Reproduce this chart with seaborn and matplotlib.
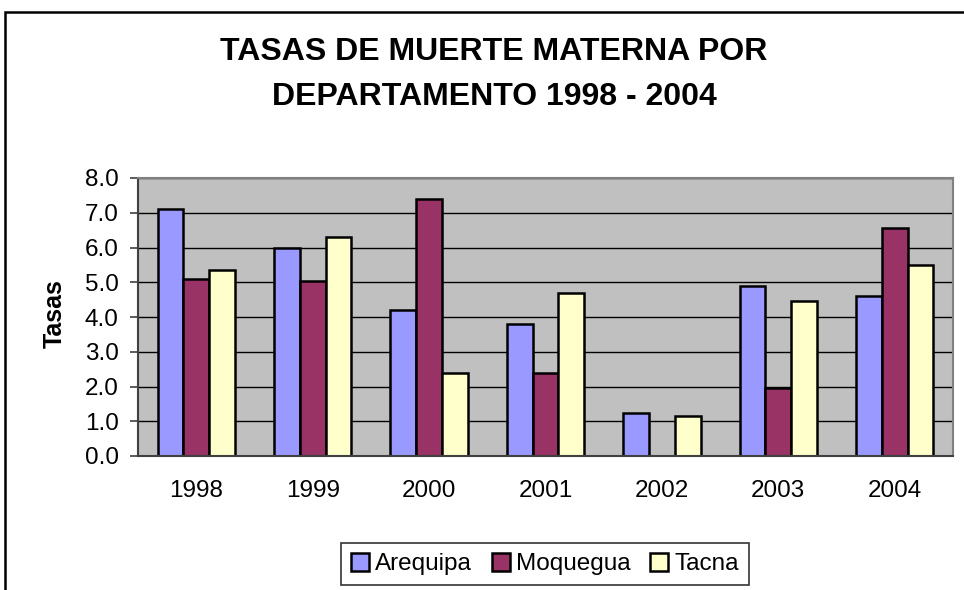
import numpy as np
import pandas as pd
import matplotlib
matplotlib.use("Agg")
import matplotlib.pyplot as plt
from matplotlib.patches import Rectangle
import seaborn as sns

years = ["1998", "1999", "2000", "2001", "2002", "2003", "2004"]
arequipa = [7.1, 6.0, 4.2, 3.8, 1.25, 4.9, 4.6]
moquegua = [5.1, 5.05, 7.4, 2.4, 0.0, 1.95, 6.55]
tacna = [5.35, 6.3, 2.4, 4.7, 1.15, 4.45, 5.5]
series_names = ["Arequipa", "Moquegua", "Tacna"]
colors = ["#9999FF", "#993366", "#FFFFCC"]
y_ticks = [0.0, 1.0, 2.0, 3.0, 4.0, 5.0, 6.0, 7.0, 8.0]

df = pd.DataFrame({
    "Año": years * 3,
    "Tasa": arequipa + moquegua + tacna,
    "Departamento": [series_names[0]] * 7 + [series_names[1]] * 7 + [series_names[2]] * 7,
})

sns.set_theme(style="white")
plt.rcParams["font.family"] = ["Liberation Sans", "DejaVu Sans"]
plt.rcParams["text.color"] = "black"
plt.rcParams["axes.labelcolor"] = "black"
plt.rcParams["xtick.color"] = "black"
plt.rcParams["ytick.color"] = "black"

W, H = 964, 590
fig = plt.figure(figsize=(W / 100, H / 100), dpi=100)
ax = fig.add_axes([138 / W, 1 - 456 / H, (953 - 138) / W, (456 - 178) / H])
ax.set_facecolor("#C0C0C0")

sns.barplot(data=df, x="Año", y="Tasa", hue="Departamento", order=years,
            hue_order=series_names, palette=colors, width=0.664,
            edgecolor="black", linewidth=1.8, saturation=1, ax=ax,
            legend=True, errorbar=None)

ax.set_ylim(0, 8)
ax.set_xlim(-0.5, 6.5)
ax.set_yticks(y_ticks)
ax.set_yticklabels([f"{v:.1f}" for v in y_ticks], fontsize=17.5)
ax.set_xticks(range(len(years)))
ax.set_xticklabels(years, fontsize=17.5)
ax.set_xlabel("")
ax.set_ylabel("")
ax.grid(axis="y", color="black", linewidth=1.0)
ax.set_axisbelow(True)

ax.tick_params(axis="x", which="major", length=0, pad=17, labelcolor="black")
ax.set_xticks(np.arange(-0.5, 7.0, 1.0), minor=True)
ax.tick_params(axis="x", which="minor", length=6, width=1.2, color="#404040", direction="out")
ax.tick_params(axis="y", which="major", length=6, width=1.2, color="#404040", direction="out",
               pad=8, left=True, labelcolor="black")

for s in ["top", "right"]:
    ax.spines[s].set_color("#808080")
    ax.spines[s].set_linewidth(1.5)
for s in ["left", "bottom"]:
    ax.spines[s].set_color("#404040")
    ax.spines[s].set_linewidth(1.5)

# legend
handles, labels = ax.get_legend_handles_labels()
ax.legend_.remove()
leg = fig.legend(handles, labels, loc="center", bbox_to_anchor=(545 / W, 1 - 564 / H),
                 ncol=3, fontsize=17.5, frameon=True, fancybox=False, handlelength=0.75,
                 handleheight=0.75, handletextpad=0.25, columnspacing=0.8,
                 borderpad=0.4, borderaxespad=0)
leg.get_frame().set_edgecolor("black")
leg.get_frame().set_linewidth(1.2)
for t in leg.get_texts():
    t.set_color("black")

fig.text(494 / W, 1 - 52 / H, "TASAS DE MUERTE MATERNA POR", ha="center", va="center",
         fontsize=23, fontweight="bold", color="black")
fig.text(494 / W, 1 - 97 / H, "DEPARTAMENTO 1998 - 2004", ha="center", va="center",
         fontsize=23, fontweight="bold", color="black")
fig.text(55 / W, 1 - 314 / H, "Tasas", rotation=90, ha="center", va="center",
         fontsize=18, fontweight="bold", color="black")

fig.patches.append(Rectangle((5 / W, -0.2), 1.2, 0.2 + (1 - 12 / H), transform=fig.transFigure,
                             fill=False, edgecolor="black", linewidth=1.8, zorder=10))

fig.savefig("out.png", dpi=100)
